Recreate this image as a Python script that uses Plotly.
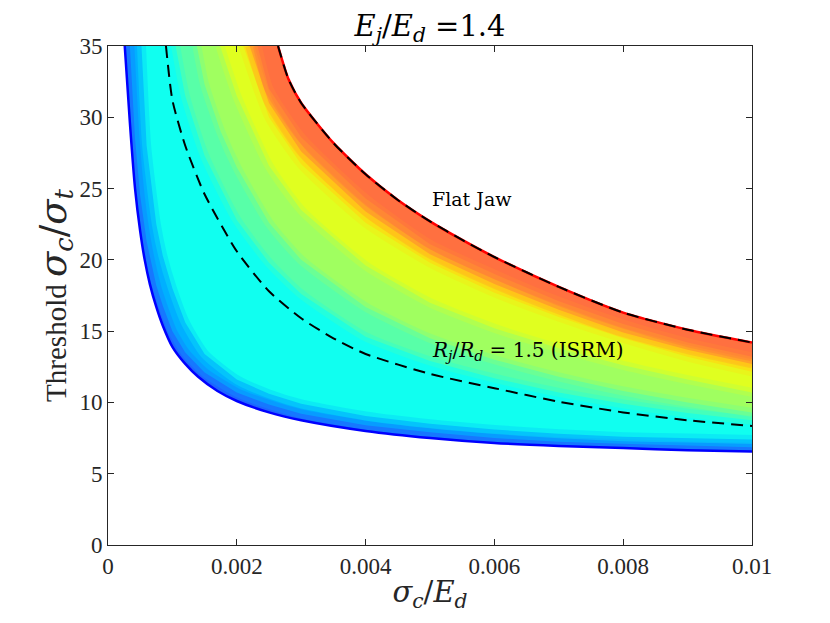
import plotly.graph_objects as go

# level curves (threshold sigma_c/sigma_t vs sigma_c/E_d)
# lowest (blue) curve
lvl0_x = [0.00026, 0.00034, 0.00042, 0.0005, 0.00057, 0.00065, 0.00075, 0.00085, 0.001, 0.0012,
          0.0014, 0.0017, 0.002, 0.0025, 0.003, 0.004, 0.005, 0.006, 0.007, 0.008, 0.009, 0.01]
lvl0_y = [35, 29.6, 25, 22.0, 20.0, 18.3, 16.7, 15.4, 13.9, 12.7,
          11.8, 10.8, 10.1, 9.3, 8.75, 8.0, 7.5, 7.15, 6.95, 6.8, 6.65, 6.55]
# light blue
lvl1_x = [0.00034, 0.00042, 0.0005, 0.0006, 0.00075, 0.00085, 0.001, 0.0012, 0.0015, 0.002,
          0.0025, 0.003, 0.004, 0.005, 0.006, 0.007, 0.008, 0.009, 0.01]
lvl1_y = [35, 28.5, 24.5, 21.3, 18.2, 16.8, 15.0, 13.5, 12.1, 10.7,
          9.85, 9.2, 8.4, 7.9, 7.5, 7.25, 7.1, 6.95, 6.85]
# cyan onset
lvl2_x = [0.00052, 0.0006, 0.00075, 0.00085, 0.001, 0.0012, 0.0015, 0.002, 0.0025, 0.003,
          0.004, 0.005, 0.006, 0.007, 0.008, 0.009, 0.01]
lvl2_y = [35, 28.0, 22.5, 20.3, 18.0, 15.6, 13.4, 11.6, 10.6, 9.9,
          9.05, 8.5, 8.1, 7.8, 7.6, 7.5, 7.4]
lvl3_x = [0.00105, 0.0012, 0.0015, 0.002, 0.0025, 0.003, 0.004, 0.005, 0.006, 0.007, 0.008, 0.009, 0.01]
lvl3_y = [35, 31.5, 27.3, 22.8, 19.8, 17.6, 14.6, 12.9, 11.7, 10.7, 9.9, 9.25, 8.75]
lvl4_x = [0.00138, 0.0015, 0.00175, 0.002, 0.0025, 0.003, 0.004, 0.005, 0.006, 0.007, 0.008, 0.009, 0.01]
lvl4_y = [35, 32.3, 29.0, 26.5, 22.6, 20.0, 16.7, 14.5, 13.0, 11.8, 10.8, 10.0, 9.3]
lvl5_x = [0.00174, 0.002, 0.0025, 0.003, 0.004, 0.005, 0.006, 0.007, 0.008, 0.009, 0.01]
lvl5_y = [35, 31.5, 26.6, 23.5, 19.6, 17.0, 15.2, 13.8, 12.6, 11.6, 10.7]
lvl6_x = [0.0021, 0.0025, 0.003, 0.004, 0.005, 0.006, 0.007, 0.008, 0.009, 0.01]
lvl6_y = [35, 30.0, 26.7, 22.6, 19.8, 17.7, 16.0, 14.5, 13.2, 12.15]
lvl7_x = [0.0022, 0.0025, 0.003, 0.004, 0.005, 0.006, 0.007, 0.008, 0.009, 0.01]
lvl7_y = [35, 31.0, 27.6, 23.4, 20.4, 18.3, 16.5, 14.9, 13.7, 12.7]
lvl8_x = [0.00232, 0.0025, 0.003, 0.004, 0.005, 0.006, 0.007, 0.008, 0.009, 0.01]
lvl8_y = [35, 32.0, 28.6, 24.3, 21.1, 19.0, 17.1, 15.5, 14.2, 13.2]

# flat jaw (upper, red edge)
jaw_x = [0.00264, 0.0028, 0.003, 0.0035, 0.004, 0.0045, 0.005, 0.0055, 0.006, 0.007, 0.008, 0.009, 0.01]
jaw_y = [35, 32.7, 31.0, 28.2, 26.0, 24.2, 22.7, 21.4, 20.2, 18.1, 16.3, 15.1, 14.2]

# Rj/Rd = 1.5 (ISRM)
isrm_x = [0.0009, 0.001, 0.0012, 0.0015, 0.002, 0.0025, 0.003, 0.0035, 0.004, 0.005,
          0.006, 0.007, 0.008, 0.009, 0.01]
isrm_y = [35, 31.2, 28.0, 24.6, 20.6, 17.8, 15.9, 14.5, 13.4, 12.0,
          11.0, 10.05, 9.3, 8.75, 8.35]

x_ticks = [0, 0.002, 0.004, 0.006, 0.008, 0.01]
x_tick_text = ["0", "0.002", "0.004", "0.006", "0.008", "0.01"]
y_ticks = [0, 5, 10, 15, 20, 25, 30, 35]

levels = [(lvl0_x, lvl0_y), (lvl1_x, lvl1_y), (lvl2_x, lvl2_y), (lvl3_x, lvl3_y),
          (lvl4_x, lvl4_y), (lvl5_x, lvl5_y), (lvl6_x, lvl6_y), (lvl7_x, lvl7_y),
          (lvl8_x, lvl8_y)]
band_colors = ["#1e64ff", "#00b0ff", "#10fff0", "#58ffa8", "#a0ff60",
               "#e0ff20", "#ffd810", "#ff9030", "#ff7040"]
# colour at each interior boundary, used to soften the steps
edge_colors = ["#0f8aff", "#08d8f8", "#34ffcc", "#7cff84", "#c0ff40",
               "#f0ec18", "#ffb420", "#ff8038"]

font = "Liberation Serif, Times New Roman, serif"
tex = "DejaVu Serif, serif"
fig = go.Figure()

# stacked fills: each one covers from its level up to the flat jaw curve
for (lx, ly), col in zip(levels, band_colors):
    px = list(lx) + jaw_x[::-1]
    py = list(ly) + jaw_y[::-1]
    fig.add_trace(go.Scatter(x=px, y=py, fill="toself", fillcolor=col, mode="lines",
                             line=dict(width=0, color=col),
                             hoverinfo="skip", showlegend=False))

for (lx, ly), col in zip(levels[1:], edge_colors):
    fig.add_trace(go.Scatter(x=lx, y=ly, mode="lines", opacity=0.5,
                             line=dict(color=col, width=9, shape="spline", smoothing=0.6),
                             hoverinfo="skip", showlegend=False))

fig.add_trace(go.Scatter(x=lvl0_x, y=lvl0_y, mode="lines",
                         line=dict(color="#0000ff", width=2.5, shape="spline", smoothing=0.6),
                         showlegend=False))
fig.add_trace(go.Scatter(x=jaw_x, y=jaw_y, mode="lines",
                         line=dict(color="#ff0000", width=2.5, shape="spline", smoothing=0.6),
                         showlegend=False))
fig.add_trace(go.Scatter(x=jaw_x, y=jaw_y, mode="lines",
                         line=dict(color="black", width=2, dash="12px,7px", shape="spline",
                                   smoothing=0.6), showlegend=False))
fig.add_trace(go.Scatter(x=isrm_x, y=isrm_y, mode="lines",
                         line=dict(color="black", width=2, dash="12px,7px", shape="spline",
                                   smoothing=0.6), showlegend=False))

fig.add_annotation(x=0.005, y=24.3, text="Flat Jaw", showarrow=False, xanchor="left",
                   font=dict(family=tex, size=19, color="black"))
fig.add_annotation(x=0.005, y=13.6, text="<i>R<sub>j</sub></i>/<i>R<sub>d</sub></i> = 1.5 (ISRM)",
                   showarrow=False, xanchor="left", font=dict(family=tex, size=20, color="black"))

axis_style = dict(showgrid=False, zeroline=False, showline=True, linecolor="#262626",
                  linewidth=1, mirror="ticks", ticks="inside", ticklen=6,
                  tickcolor="#262626", tickfont=dict(family=font, size=23, color="#262626"))

fig.update_xaxes(range=[0, 0.01], tickvals=x_ticks, ticktext=x_tick_text,
                 title=dict(text="<i>σ<sub>c</sub></i>/<i>E<sub>d</sub></i>",
                            font=dict(family=tex, size=29, color="#262626"), standoff=4),
                 **axis_style)
fig.update_yaxes(range=[0, 35], tickvals=y_ticks,
                 title=dict(text="Threshold <span style='font-family:DejaVu Serif;font-size:37px'>"
                                 "<i>σ<sub>c</sub></i>/<i>σ<sub>t</sub></i></span>",
                            font=dict(family=font, size=29, color="#262626"), standoff=4),
                 **axis_style)

fig.update_layout(
    width=830, height=623,
    margin=dict(l=100, r=86, t=38, b=86),
    plot_bgcolor="white", paper_bgcolor="white",
    title=dict(text="<i>E<sub>j</sub></i>/<i>E<sub>d</sub></i> =1.4", x=0.5, xref="paper",
               y=0.972, yanchor="middle", font=dict(family=tex, size=29, color="black")),
)

fig.write_html("out.html")
